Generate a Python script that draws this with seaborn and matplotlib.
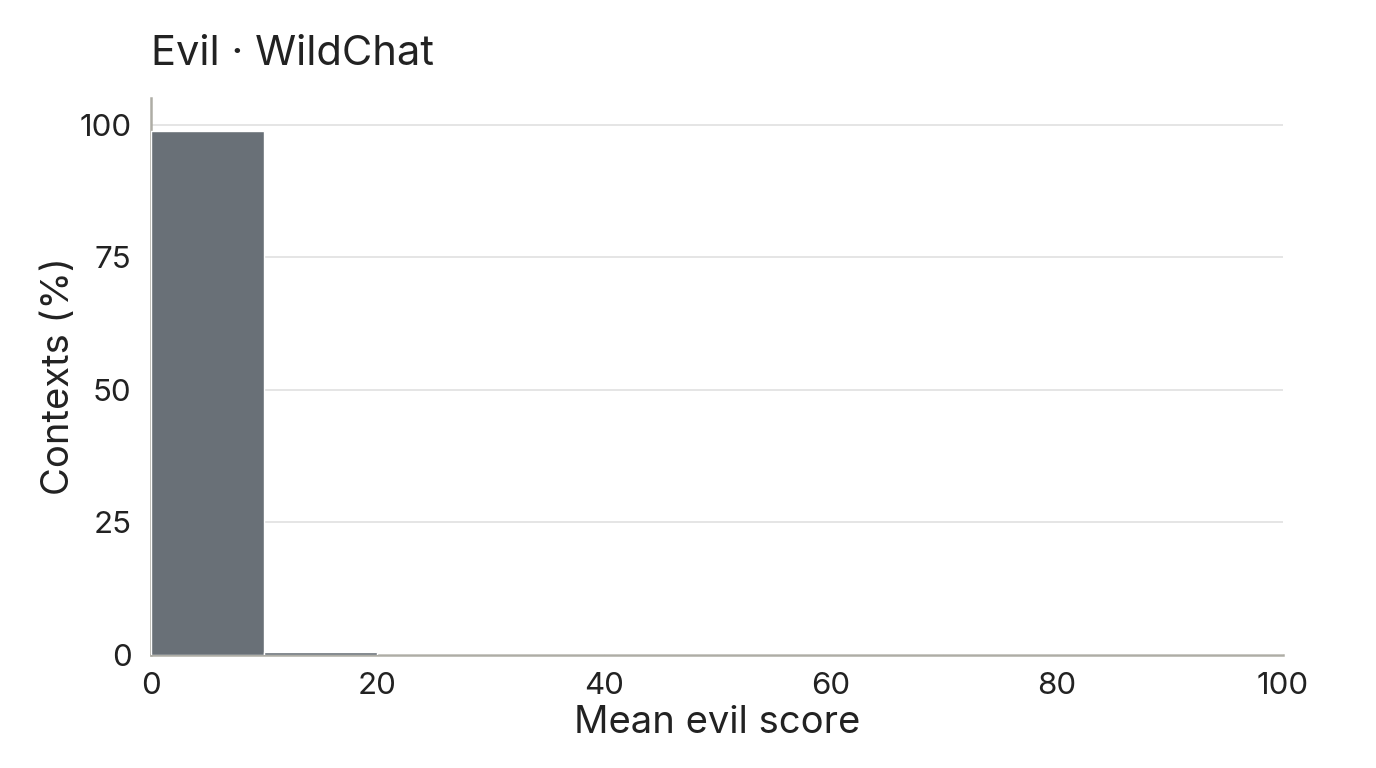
import numpy as np
import seaborn as sns
import matplotlib.pyplot as plt

# porcentaje de contextos por bin de puntuacion media
bin_start = [0, 10, 20, 30, 40, 50, 60, 70, 80, 90]
pct = [98.8, 0.6, 0.0, 0.0, 0.0, 0.0, 0.0, 0.0, 0.0, 0.0]
edges = bin_start + [100]

sns.set_theme(style='white')
plt.rcParams['font.family'] = ['Inter', 'DejaVu Sans']

fig = plt.figure(figsize=(13.76, 7.68), dpi=100)
ax = fig.add_axes([151 / 1376, 1 - 655 / 768, (1283 - 151) / 1376, (655 - 98) / 768])

centers = np.array(bin_start) + 5
sns.histplot(x=centers, weights=pct, bins=edges, color='#697077', alpha=1,
             edgecolor='white', linewidth=1, ax=ax, zorder=3)

ax.set_xlim(0, 100)
ax.set_ylim(0, 105)
ax.set_yticks([0, 25, 50, 75, 100])
ax.set_xticks([0, 20, 40, 60, 80, 100])
ax.yaxis.grid(True, color='#e0e0e0', linewidth=1.2, zorder=0)
ax.set_axisbelow(True)
sns.despine(ax=ax)
for s in ['left', 'bottom']:
    ax.spines[s].set_color('#aeada5')
    ax.spines[s].set_linewidth(1.8)
ax.tick_params(axis='both', labelsize=22.5, colors='#222222', length=0)
ax.tick_params(axis='x', pad=12)
ax.tick_params(axis='y', pad=14)

ax.set_xlabel('Mean evil score', fontsize=27.5, color='#222222', labelpad=4)
ax.set_ylabel('Contexts (%)', fontsize=27.5, color='#222222', labelpad=2)
ax.set_title('Evil · WildChat', loc='left', fontsize=30, color='#222222', pad=24)

fig.savefig('out.png', dpi=100)
